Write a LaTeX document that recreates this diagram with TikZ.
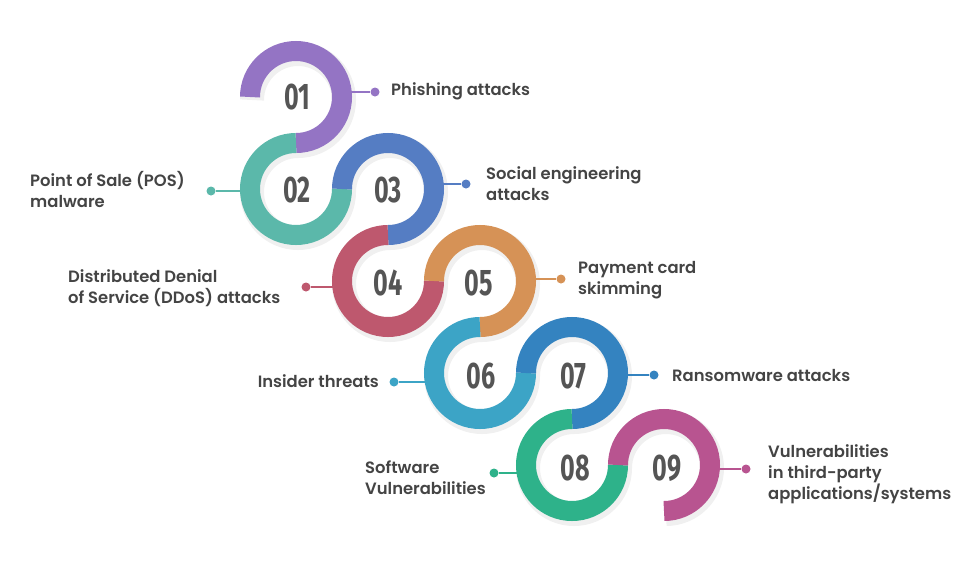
\documentclass[tikz,border=0pt]{standalone}
\usepackage{fontspec}
\setmainfont{Poppins}[UprightFont=* SemiBold]
\newfontfamily\numfont{Fira Sans}[FakeStretch=0.68]
\definecolor{cA}{HTML}{9474C4}
\definecolor{cB}{HTML}{5BB8AA}
\definecolor{cC}{HTML}{557DC3}
\definecolor{cD}{HTML}{BE586E}
\definecolor{cE}{HTML}{D69256}
\definecolor{cF}{HTML}{3CA4C6}
\definecolor{cG}{HTML}{3483C0}
\definecolor{cH}{HTML}{2EB28A}
\definecolor{cI}{HTML}{B85490}
\definecolor{txt}{HTML}{444444}
\definecolor{numc}{HTML}{555555}
\newcommand\ringarc[4]{%
  \draw[ringband,#1] (#2) ++(#3:46) arc[start angle=#3,end angle=#4,radius=46];}
\newcommand\ringshadow[3]{%
  \draw[shadowband] ([shift={(2,3)}]#1) ++(#2:46) arc[start angle=#2,end angle=#3,radius=46];}
\begin{document}
\begin{tikzpicture}[x=1pt,y=-1pt,
  ringband/.style={line width=20pt},
  shadowband/.style={line width=24pt,black,opacity=0.06},
  conn/.style={line width=2.5pt},
  dotnode/.style={circle,inner sep=0pt,minimum size=9pt},
  numnode/.style={font=\numfont\bfseries\fontsize{37}{37}\selectfont,text=numc,inner sep=0pt},
  lbl/.style={font=\fontsize{16.4}{21}\selectfont,text=txt,inner sep=0pt,align=left},
  lblr/.style={font=\fontsize{16.4}{21}\selectfont,text=txt,inner sep=0pt,align=right}]
\useasboundingbox (0,0) rectangle (970,573);
\fill[white] (0,0) rectangle (970,573);
% ring centres
\coordinate (r01) at (296,97);
\coordinate (r02) at (296,189);
\coordinate (r03) at (388,189);
\coordinate (r04) at (388,281);
\coordinate (r05) at (480,281);
\coordinate (r06) at (480,373);
\coordinate (r07) at (572,373);
\coordinate (r08) at (572,465);
\coordinate (r09) at (664,465);
% shadows
\ringshadow{r01}{180}{450}
\ringshadow{r02}{270}{0}
\ringshadow{r03}{180}{450}
\ringshadow{r04}{270}{0}
\ringshadow{r05}{180}{450}
\ringshadow{r06}{270}{0}
\ringshadow{r07}{180}{450}
\ringshadow{r08}{270}{0}
\ringshadow{r09}{180}{450}
% rings
\ringarc{cA}{r01}{180}{450}
\ringarc{cB}{r02}{270}{0}
\ringarc{cC}{r03}{180}{450}
\ringarc{cD}{r04}{270}{0}
\ringarc{cE}{r05}{180}{450}
\ringarc{cF}{r06}{270}{0}
\ringarc{cG}{r07}{180}{450}
\ringarc{cH}{r08}{270}{0}
\ringarc{cI}{r09}{180}{450}
% numbers
\node[numnode] (n01) at (297,97) {01};
\node[numnode] (n02) at (297,190) {02};
\node[numnode] (n03) at (388,190) {03};
\node[numnode] (n04) at (388,283) {04};
\node[numnode] (n05) at (479,283) {05};
\node[numnode] (n06) at (481,376) {06};
\node[numnode] (n07) at (573,376) {07};
\node[numnode] (n08) at (575,468) {08};
\node[numnode] (n09) at (667,468) {09};
% connectors
\coordinate (e01) at (350,92);  \node[dotnode,fill=cA] (d01) at (375,92) {};
\coordinate (e02) at (242,191); \node[dotnode,fill=cB] (d02) at (211,191) {};
\coordinate (e03) at (442,184); \node[dotnode,fill=cC] (d03) at (466,184) {};
\coordinate (e04) at (334,287); \node[dotnode,fill=cD] (d04) at (306,287) {};
\coordinate (e05) at (534,279); \node[dotnode,fill=cE] (d05) at (561,279) {};
\coordinate (e06) at (426,382); \node[dotnode,fill=cF] (d06) at (394,382) {};
\coordinate (e07) at (626,375); \node[dotnode,fill=cG] (d07) at (654,375) {};
\coordinate (e08) at (518,473); \node[dotnode,fill=cH] (d08) at (494,473) {};
\coordinate (e09) at (718,469); \node[dotnode,fill=cI] (d09) at (746,469) {};
\draw[conn,cA] (e01) -- (d01);
\draw[conn,cB] (e02) -- (d02);
\draw[conn,cC] (e03) -- (d03);
\draw[conn,cD] (e04) -- (d04);
\draw[conn,cE] (e05) -- (d05);
\draw[conn,cF] (e06) -- (d06);
\draw[conn,cG] (e07) -- (d07);
\draw[conn,cH] (e08) -- (d08);
\draw[conn,cI] (e09) -- (d09);
% labels
\node[lbl,anchor=west] (t01) at (391,91) {Phishing attacks};
\node[lbl,anchor=west] (t02) at (30,189) {Point of Sale (POS)\\malware};
\node[lbl,anchor=west] (t03) at (486,184) {Social engineering\\attacks};
\node[lbl,anchor=west] (t04) at (68,288) {Distributed Denial\\of Service (DDoS) attacks};
\node[lbl,anchor=west] (t05) at (578,280) {Payment card\\skimming};
\node[lblr,anchor=east] (t06) at (379,381) {Insider threats};
\node[lbl,anchor=west] (t07) at (672,376) {Ransomware attacks};
\node[lbl,anchor=west] (t08) at (365,478) {Software\\Vulnerabilities};
\node[lbl,anchor=west] (t09) at (768,474) {Vulnerabilities\\in third-party\\applications/systems};
\end{tikzpicture}
\end{document}
